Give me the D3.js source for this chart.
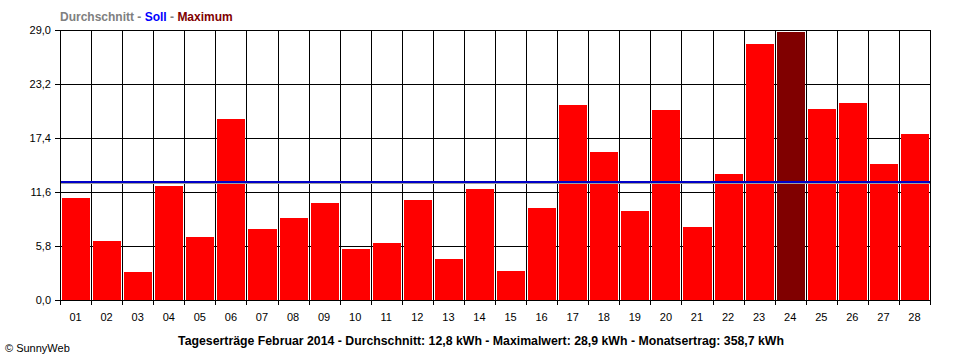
<!DOCTYPE html>
<html><head><meta charset="utf-8">
<script src="https://cdn.jsdelivr.net/npm/d3@7"></script>
<style>
html,body{margin:0;padding:0;background:#fff;}
svg{display:block;font-family:"Liberation Sans",Arial,sans-serif;}
</style></head>
<body><svg id="c" width="960" height="360"></svg>
<script>
const days = ["01","02","03","04","05","06","07","08","09","10","11","12","13","14","15","16","17","18","19","20","21","22","23","24","25","26","27","28"];
const values = [11.1,6.4,3.1,12.4,6.9,19.5,7.7,8.9,10.5,5.6,6.2,10.8,4.5,12.0,3.2,10.0,21.0,16.0,9.7,20.5,8.0,13.6,27.6,28.9,20.6,21.3,14.7,17.9];
const yTicks = [0,5.8,11.6,17.4,23.2,29.0];
const sollValue = 12.7;
const avgLineValue = 12.55;
const legendParts = [{t:"Durchschnitt",c:"#808080"},{t:" - ",c:"#808080"},{t:"Soll",c:"#0000ff"},{t:" - ",c:"#808080"},{t:"Maximum",c:"#800000"}];
const title = "Tageserträge Februar 2014 - Durchschnitt: 12,8 kWh - Maximalwert: 28,9 kWh - Monatsertrag: 358,7 kWh";
const credit = "© SunnyWeb";

const svg = d3.select("#c");
const L=60,R=930,T=30,B=300;
const x = d3.scaleBand().domain(days).range([L,R]).padding(0);
const y = d3.scaleLinear().domain([0,29]).range([B,T]);
const fmt = v => d3.format(".1f")(v).replace(".",",");
const maxV = d3.max(values);

// horizontal grid + ticks
svg.append("g").selectAll("line").data(yTicks).join("line")
  .attr("x1",L-5).attr("x2",R).attr("y1",d=>Math.round(y(d))+0.5).attr("y2",d=>Math.round(y(d))+0.5)
  .attr("stroke","#000").attr("stroke-width",1);
// vertical grid
const bounds = days.map(d=>x(d)).concat([R]);
svg.append("g").selectAll("line").data(bounds).join("line")
  .attr("x1",d=>Math.round(d)+0.5).attr("x2",d=>Math.round(d)+0.5)
  .attr("y1",T).attr("y2",B+5)
  .attr("stroke","#000").attr("stroke-width",1);

// bars
svg.append("g").selectAll("rect").data(values).join("rect")
  .attr("x",(d,i)=>Math.round(x(days[i]))+2)
  .attr("width",(d,i)=>Math.round(x(days[i])+x.bandwidth())-Math.round(x(days[i]))-3)
  .attr("y",d=>Math.round(y(d))+1)
  .attr("height",d=>B-Math.round(y(d))-1)
  .attr("fill",d=>d===maxV?"#800000":"#ff0000")
  .attr("shape-rendering","crispEdges");

// axis baseline
svg.append("line").attr("x1",L-5).attr("x2",R+0.5).attr("y1",B+0.5).attr("y2",B+0.5).attr("stroke","#000");

// average & soll lines
svg.append("line").attr("x1",L+1).attr("x2",R).attr("y1",Math.round(y(avgLineValue))+0.5).attr("y2",Math.round(y(avgLineValue))+0.5)
  .attr("stroke","#a0a0a0").attr("stroke-width",1);
svg.append("line").attr("x1",L+1).attr("x2",R).attr("y1",Math.round(y(sollValue))).attr("y2",Math.round(y(sollValue)))
  .attr("stroke","#0000c8").attr("stroke-width",2);

// y labels
svg.append("g").selectAll("text").data(yTicks).join("text")
  .attr("x",L-9).attr("y",d=>y(d)+4).attr("text-anchor","end")
  .attr("font-size",11).attr("fill","#000").text(fmt);
// x labels
svg.append("g").selectAll("text").data(days).join("text")
  .attr("x",d=>x(d)+x.bandwidth()/2).attr("y",B+21).attr("text-anchor","middle")
  .attr("font-size",11).attr("fill","#000").text(d=>d);

// legend
const lg = svg.append("text").attr("x",L).attr("y",21).attr("font-size",12).attr("font-weight","bold");
lg.selectAll("tspan").data(legendParts).join("tspan").attr("fill",d=>d.c).attr("xml:space","preserve").text(d=>d.t);

// title
svg.append("text").attr("x",481).attr("y",345).attr("text-anchor","middle")
  .attr("font-size",12.3).attr("font-weight","bold").attr("fill","#000").text(title);
// credit
svg.append("text").attr("x",5).attr("y",352).attr("font-size",11).attr("fill","#000").text(credit);
</script></body></html>
